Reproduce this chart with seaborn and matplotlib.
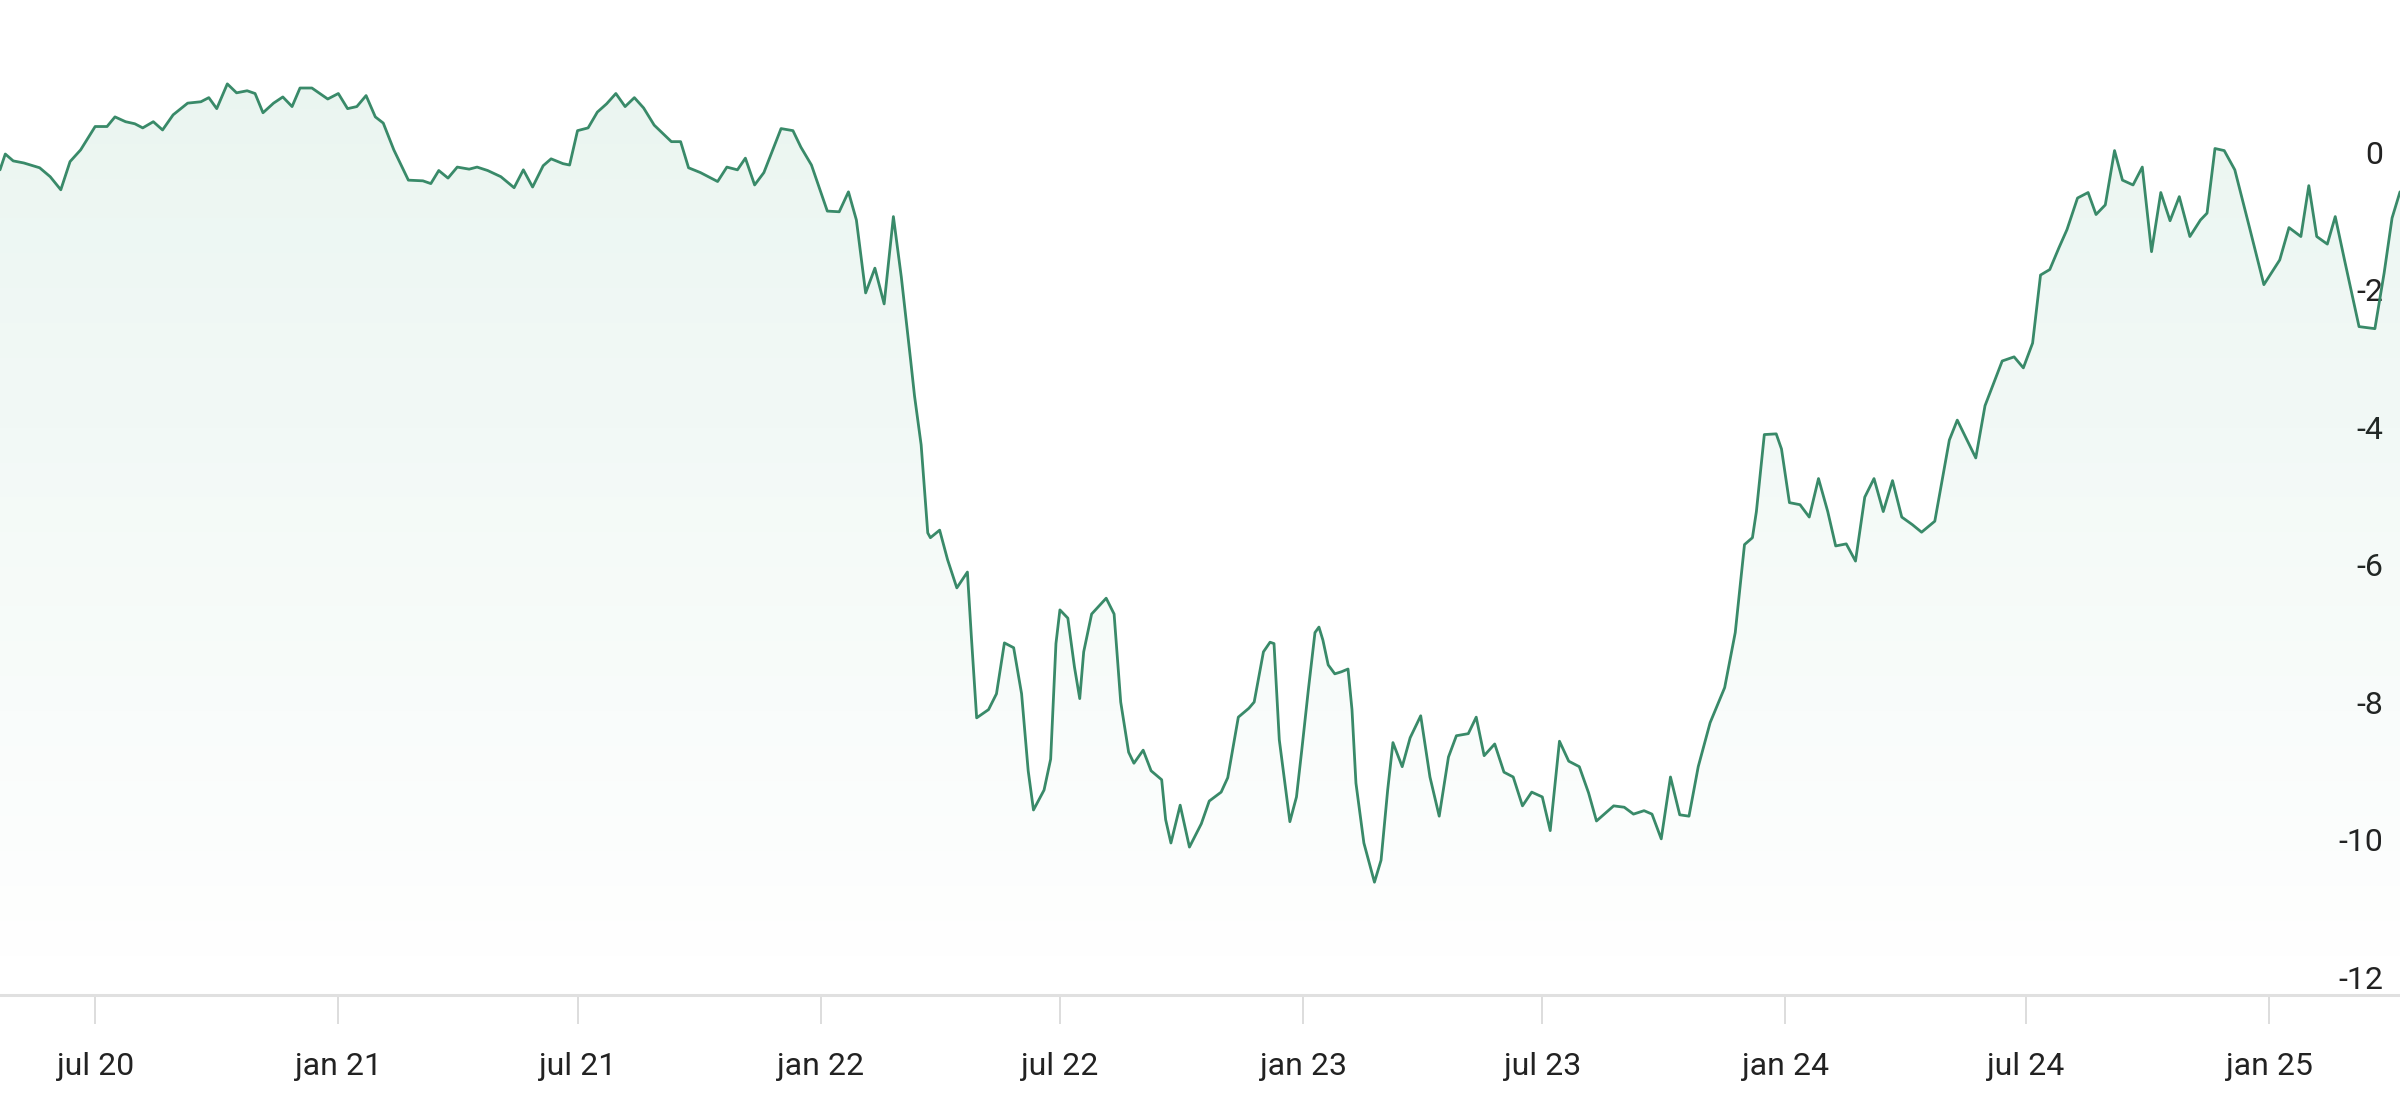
import numpy as np
import pandas as pd
import matplotlib
matplotlib.use("Agg")
import matplotlib.pyplot as plt
import matplotlib.dates as mdates
import matplotlib.colors as mcolors
import seaborn as sns

# Values (date, value)
dates = [
    "2020-04-20", "2020-04-24", "2020-04-30", "2020-05-08", "2020-05-20", "2020-05-28", "2020-06-05",
    "2020-06-12", "2020-06-20", "2020-07-01", "2020-07-10", "2020-07-16", "2020-07-24", "2020-07-31",
    "2020-08-06", "2020-08-14", "2020-08-21", "2020-08-29", "2020-09-09", "2020-09-19", "2020-09-25",
    "2020-10-01", "2020-10-09", "2020-10-16", "2020-10-24", "2020-10-30", "2020-11-05", "2020-11-13",
    "2020-11-20", "2020-11-27", "2020-12-03", "2020-12-12", "2020-12-24", "2021-01-01", "2021-01-08",
    "2021-01-15", "2021-01-22", "2021-01-29", "2021-02-04", "2021-02-12", "2021-02-23", "2021-03-06",
    "2021-03-12", "2021-03-18", "2021-03-25", "2021-04-01", "2021-04-10", "2021-04-16", "2021-04-24",
    "2021-05-04", "2021-05-14", "2021-05-21", "2021-05-28", "2021-06-05", "2021-06-11", "2021-06-20",
    "2021-06-25", "2021-07-01", "2021-07-09", "2021-07-16", "2021-07-23", "2021-07-30", "2021-08-06",
    "2021-08-13", "2021-08-20", "2021-08-28", "2021-09-10", "2021-09-17", "2021-09-23", "2021-10-02",
    "2021-10-15", "2021-10-22", "2021-10-30", "2021-11-05", "2021-11-12", "2021-11-19", "2021-12-02",
    "2021-12-11", "2021-12-17", "2021-12-25", "2022-01-06", "2022-01-15", "2022-01-22", "2022-01-28",
    "2022-02-04", "2022-02-11", "2022-02-18", "2022-02-25", "2022-03-03", "2022-03-10", "2022-03-13",
    "2022-03-18", "2022-03-23", "2022-03-25", "2022-04-01", "2022-04-07", "2022-04-14", "2022-04-22",
    "2022-04-25", "2022-04-29", "2022-05-08", "2022-05-14", "2022-05-20", "2022-05-27", "2022-06-02",
    "2022-06-07", "2022-06-11", "2022-06-19", "2022-06-24", "2022-06-28", "2022-07-01", "2022-07-07",
    "2022-07-12", "2022-07-16", "2022-07-19", "2022-07-25", "2022-08-05", "2022-08-11", "2022-08-16",
    "2022-08-22", "2022-08-26", "2022-09-02", "2022-09-08", "2022-09-16", "2022-09-19", "2022-09-23",
    "2022-09-30", "2022-10-07", "2022-10-16", "2022-10-22", "2022-10-31", "2022-11-05", "2022-11-13",
    "2022-11-21", "2022-11-25", "2022-12-02", "2022-12-07", "2022-12-10", "2022-12-14", "2022-12-22",
    "2022-12-27", "2022-12-31", "2023-01-05", "2023-01-10", "2023-01-13", "2023-01-16", "2023-01-20",
    "2023-01-25", "2023-01-30", "2023-02-04", "2023-02-07", "2023-02-10", "2023-02-16", "2023-02-24",
    "2023-03-01", "2023-03-06", "2023-03-10", "2023-03-17", "2023-03-23", "2023-03-31", "2023-04-07",
    "2023-04-14", "2023-04-21", "2023-04-27", "2023-05-06", "2023-05-12", "2023-05-18", "2023-05-26",
    "2023-06-02", "2023-06-09", "2023-06-16", "2023-06-23", "2023-07-01", "2023-07-07", "2023-07-14",
    "2023-07-21", "2023-07-29", "2023-08-05", "2023-08-11", "2023-08-24", "2023-09-01", "2023-09-08",
    "2023-09-16", "2023-09-22", "2023-09-29", "2023-10-06", "2023-10-13", "2023-10-20", "2023-10-27",
    "2023-11-05", "2023-11-16", "2023-11-24", "2023-12-01", "2023-12-07", "2023-12-10", "2023-12-16",
    "2023-12-25", "2023-12-29", "2024-01-04", "2024-01-12", "2024-01-19", "2024-01-26", "2024-02-02",
    "2024-02-08", "2024-02-16", "2024-02-23", "2024-03-01", "2024-03-08", "2024-03-15", "2024-03-22",
    "2024-03-29", "2024-04-06", "2024-04-13", "2024-04-23", "2024-05-04", "2024-05-10", "2024-05-24",
    "2024-05-31", "2024-06-13", "2024-06-22", "2024-06-29", "2024-07-06", "2024-07-12", "2024-07-19",
    "2024-07-26", "2024-08-01", "2024-08-09", "2024-08-17", "2024-08-23", "2024-08-30", "2024-09-06",
    "2024-09-12", "2024-09-20", "2024-09-27", "2024-10-04", "2024-10-11", "2024-10-18", "2024-10-25",
    "2024-11-02", "2024-11-10", "2024-11-15", "2024-11-21", "2024-11-28", "2024-12-06", "2024-12-17",
    "2024-12-28", "2025-01-09", "2025-01-16", "2025-01-25", "2025-01-31", "2025-02-06", "2025-02-14",
    "2025-02-20", "2025-02-27", "2025-03-10", "2025-03-22", "2025-03-29", "2025-04-04", "2025-04-10",
]

values = [
    0.00, 0.23, 0.13, 0.10, 0.03, -0.10, -0.29,
    0.12, 0.29, 0.63, 0.63, 0.77, 0.70, 0.67,
    0.61, 0.70, 0.58, 0.80, 0.97, 0.99, 1.05,
    0.89, 1.25, 1.12, 1.15, 1.11, 0.83, 0.97,
    1.06, 0.92, 1.19, 1.19, 1.03, 1.11, 0.89,
    0.92, 1.08, 0.77, 0.68, 0.29, -0.15, -0.16,
    -0.20, -0.01, -0.12, 0.04, 0.01, 0.04, -0.01,
    -0.10, -0.26, 0.00, -0.25, 0.06, 0.16, 0.09,
    0.07, 0.57, 0.61, 0.84, 0.96, 1.11, 0.92,
    1.05, 0.90, 0.65, 0.41, 0.41, 0.03, -0.04,
    -0.17, 0.04, 0.00, 0.17, -0.22, -0.04, 0.60,
    0.57, 0.33, 0.07, -0.60, -0.61, -0.32, -0.73,
    -1.79, -1.43, -1.95, -0.68, -1.56, -2.76, -3.29,
    -4.00, -5.28, -5.35, -5.24, -5.67, -6.08, -5.85,
    -6.79, -7.97, -7.85, -7.62, -6.88, -6.95, -7.62,
    -8.74, -9.31, -9.02, -8.57, -6.89, -6.40, -6.52,
    -7.23, -7.69, -7.01, -6.46, -6.23, -6.46, -7.74,
    -8.47, -8.63, -8.44, -8.74, -8.87, -9.45, -9.79,
    -9.24, -9.85, -9.51, -9.18, -9.05, -8.84, -7.96,
    -7.83, -7.74, -7.01, -6.87, -6.89, -8.29, -9.48,
    -9.12, -8.44, -7.56, -6.73, -6.65, -6.84, -7.20,
    -7.33, -7.30, -7.26, -7.85, -8.92, -9.79, -10.36,
    -10.04, -9.02, -8.33, -8.68, -8.26, -7.94, -8.83,
    -9.40, -8.54, -8.23, -8.20, -7.96, -8.52, -8.35,
    -8.76, -8.83, -9.25, -9.05, -9.12, -9.61, -8.31,
    -8.60, -8.68, -9.06, -9.47, -9.25, -9.27, -9.37,
    -9.32, -9.37, -9.73, -8.83, -9.38, -9.40, -8.68,
    -8.04, -7.53, -6.73, -5.45, -5.35, -4.97, -3.85,
    -3.84, -4.06, -4.84, -4.87, -5.05, -4.49, -4.97,
    -5.47, -5.44, -5.69, -4.76, -4.49, -4.97, -4.52,
    -5.05, -5.16, -5.27, -5.11, -3.93, -3.64, -4.19,
    -3.43, -2.78, -2.72, -2.88, -2.52, -1.53, -1.45,
    -1.13, -0.87, -0.41, -0.33, -0.65, -0.51, 0.28,
    -0.15, -0.22, 0.04, -1.19, -0.33, -0.74, -0.39,
    -0.97, -0.73, -0.63, 0.31, 0.28, 0.00, -0.83,
    -1.67, -1.31, -0.84, -0.97, -0.23, -0.97, -1.08,
    -0.68, -1.31, -2.28, -2.31, -1.50, -0.70, -0.32,
]

tick_dates = ["2020-07-01", "2021-01-01", "2021-07-01", "2022-01-01", "2022-07-01",
              "2023-01-01", "2023-07-01", "2024-01-01", "2024-07-01", "2025-01-01"]
tick_labels = ["jul 20", "jan 21", "jul 21", "jan 22", "jul 22",
               "jan 23", "jul 23", "jan 24", "jul 24", "jan 25"]
y_ticks = [0, -2, -4, -6, -8, -10, -12]
y_tick_labels = ["0", "-2", "-4", "-6", "-8", "-10", "-12"]

line_color = "#398a69"
fill_color = "#2f9e6e"
y_bottom, y_top = -12, 2.47

df = pd.DataFrame({"date": pd.to_datetime(dates), "value": values})

sns.set_style("white")
plt.rcParams["font.family"] = ["Roboto", "DejaVu Sans"]

fig = plt.figure(figsize=(24, 11), dpi=100)
ax = fig.add_axes([0, 0.0955, 1, 0.9045])

# gradient fill under the line, clipped to the area below the curve
poly = ax.fill_between(df["date"], df["value"], y_bottom, facecolor="none", edgecolor="none")
clip = poly.get_paths()[0]
xnum = mdates.date2num(df["date"])
grad = np.zeros((256, 1, 4))
grad[..., :3] = mcolors.to_rgb(fill_color)
grad[..., 3] = np.linspace(0.11, 0.0, 256).reshape(-1, 1)
im = ax.imshow(grad, aspect="auto", origin="upper", zorder=1,
               extent=[xnum[0], xnum[-1], y_bottom, y_top])
im.set_clip_path(clip, transform=ax.transData)

sns.lineplot(data=df, x="date", y="value", ax=ax, color=line_color, linewidth=2.0,
             zorder=3, solid_joinstyle="round", solid_capstyle="round")

ax.set_xlim(df["date"].iloc[0], df["date"].iloc[-1])
ax.set_ylim(y_bottom, y_top)
ax.set_xlabel("")
ax.set_ylabel("")

ax.set_xticks(pd.to_datetime(tick_dates))
ax.set_xticklabels(tick_labels)
ax.tick_params(axis="x", bottom=True, direction="out", length=21, width=1.4,
               color="#dddddd", pad=20, labelsize=23, labelcolor="#222222")

ax.yaxis.tick_right()
ax.set_yticks(y_ticks)
ax.set_yticklabels(y_tick_labels)
ax.tick_params(axis="y", length=0, pad=-12, labelsize=23, labelcolor="#222222")
for lbl in ax.get_yticklabels():
    lbl.set_horizontalalignment("right")
    lbl.set_verticalalignment("bottom")
    lbl.set_zorder(5)

for side in ["top", "left", "right"]:
    ax.spines[side].set_visible(False)
ax.spines["bottom"].set_color("#e0e0e0")
ax.spines["bottom"].set_linewidth(2.2)
ax.grid(False)

fig.savefig("out.png", dpi=100)
